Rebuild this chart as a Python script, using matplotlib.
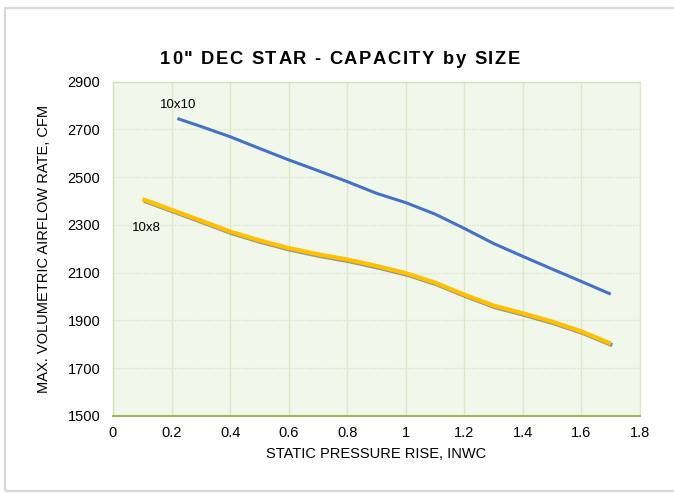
import matplotlib
matplotlib.use("Agg")
import matplotlib.pyplot as plt
import matplotlib.patheffects as pe
from matplotlib.patches import Rectangle

# datos
presion_10x10 = [0.22, 0.3, 0.4, 0.5, 0.6, 0.7, 0.8, 0.9, 1.0, 1.1, 1.2, 1.3, 1.4, 1.5, 1.6, 1.7]
caudal_10x10 = [2745, 2712, 2669, 2620, 2572, 2527, 2481, 2432, 2393, 2345, 2285, 2222, 2168, 2115, 2063, 2010]

presion_10x8 = [0.1, 0.2, 0.3, 0.4, 0.5, 0.6, 0.7, 0.8, 0.9, 1.0, 1.1, 1.2, 1.3, 1.4, 1.5, 1.6, 1.7]
caudal_10x8 = [2408, 2363, 2318, 2272, 2235, 2203, 2177, 2155, 2128, 2098, 2058, 2008, 1962, 1930, 1895, 1854, 1803]

x_ticks = [0, 0.2, 0.4, 0.6, 0.8, 1, 1.2, 1.4, 1.6, 1.8]
x_tick_labels = ["0", "0.2", "0.4", "0.6", "0.8", "1", "1.2", "1.4", "1.6", "1.8"]
y_ticks = [1500, 1700, 1900, 2100, 2300, 2500, 2700, 2900]

titulo = '10" DEC STAR - CAPACITY by SIZE'

plt.rcParams['font.family'] = ['Liberation Sans', 'DejaVu Sans']

W, H = 674, 493
fig = plt.figure(figsize=(W / 100, H / 100), dpi=100)
ax = fig.add_axes([113 / W, 1 - 416 / H, (640 - 113) / W, (416 - 81.5) / H])

# marco exterior
fig.patches.append(Rectangle((5 / W, 1 - 491 / H), 1.2, (491 - 8) / H,
                             transform=fig.transFigure, fill=False,
                             edgecolor="#D9D9D9", linewidth=1.6))

ax.set_facecolor("#F2F7EC")
ax.set_xlim(0, 1.8)
ax.set_ylim(1500, 2900)
ax.set_xticks(x_ticks)
ax.set_xticklabels(x_tick_labels)
ax.set_yticks(y_ticks)

for x in x_ticks[1:]:
    ax.axvline(x, color="#DCE8C8", linewidth=1.0, zorder=1)
for y in y_ticks[1:-1]:
    ax.axhline(y, color="#D8E4C2", linewidth=1.0, linestyle=(0, (1, 1)), zorder=1)

for lado in ["top", "left"]:
    ax.spines[lado].set_color("#D0DFB5")
    ax.spines[lado].set_linestyle((0, (1, 1)))
    ax.spines[lado].set_linewidth(1.0)
ax.spines["right"].set_color("#DCE8C8")
ax.spines["bottom"].set_color("#9BBB59")
ax.spines["bottom"].set_linewidth(1.5)

ax.tick_params(length=0, labelsize=10.5, colors="#000000")
ax.tick_params(axis="y", pad=9)
ax.tick_params(axis="x", pad=7)

ax.plot(presion_10x10, caudal_10x10, color="#4472C4", linewidth=2.2,
        solid_capstyle="butt", zorder=3)
ax.plot(presion_10x8, caudal_10x8, color="#FFC000", linewidth=3.0,
        solid_capstyle="butt", zorder=3,
        path_effects=[pe.SimpleLineShadow(offset=(1.2, -1.2), shadow_color="#555555", alpha=0.6),
                      pe.Normal()])

ax.text(0.16, 2800, "10x10", fontsize=9.5, ha="left", va="center")
ax.text(0.065, 2285, "10x8", fontsize=9.5, ha="left", va="center")

ax.set_xlabel("STATIC PRESSURE RISE, INWC", fontsize=10.5, labelpad=5)
ax.set_ylabel("MAX. VOLUMETRIC AIRFLOW RATE, CFM", fontsize=10.5, labelpad=12)

# titulo con espaciado entre letras
renderer = fig.canvas.get_renderer()
tam_titulo = 13.2
def ancho(s):
    t = fig.text(0, 0, s, fontsize=tam_titulo, fontweight="bold")
    w = t.get_window_extent(renderer).width
    t.remove()
    return w

espacio = 1.6
anchos = []
for c in titulo:
    if c == " ":
        anchos.append(ancho("a a") - ancho("aa"))
    else:
        anchos.append(ancho(c))
total = sum(anchos) + espacio * (len(titulo) - 1)
x0 = 340 - total / 2
for c, w in zip(titulo, anchos):
    if c != " ":
        fig.text(x0 / W, 1 - 59.5 / H, c, fontsize=tam_titulo, fontweight="bold",
                 ha="left", va="center")
    x0 += w + espacio

fig.savefig("out.png", dpi=100)
